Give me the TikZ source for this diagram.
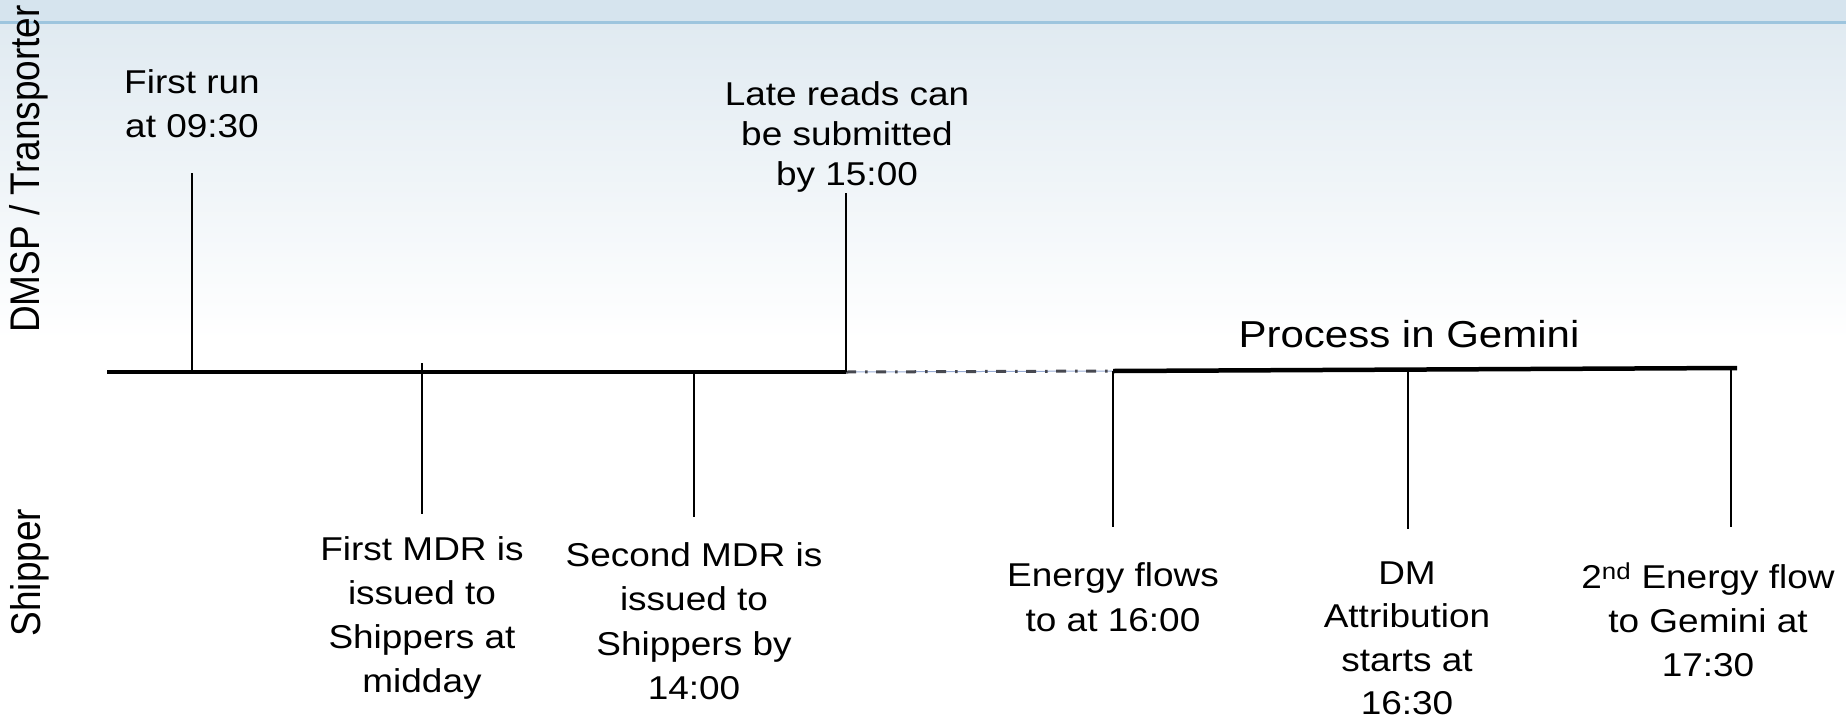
\documentclass[tikz,border=0pt]{standalone}
\usepackage{fontspec}
\usepackage{graphicx}
\setmainfont{Liberation Sans}[FakeStretch=1.12]
\newfontfamily\rotfont{Liberation Sans}
\definecolor{bandtop}{RGB}{214,228,238}
\definecolor{bandline}{RGB}{158,197,222}
\definecolor{fadetop}{RGB}{224,234,241}
\definecolor{gapblue}{RGB}{150,170,212}
\definecolor{gapdark}{RGB}{70,72,80}
\begin{document}
\begin{tikzpicture}[x=1pt,y=-1pt,
  tl/.style={line width=4.5pt},
  tickline/.style={line width=2pt},
  thintick/.style={line width=1.5pt},
  lbl/.style={inner sep=0pt, align=center, anchor=north, font=\fontsize{33}{44}\selectfont},
  side/.style={inner sep=0pt},
]
\useasboundingbox (0,0) rectangle (1846,718);
% background
\shade[top color=fadetop, bottom color=white] (0,22) rectangle (1846,340);
\fill[bandtop] (0,0) rectangle (1846,22);
\draw[line width=3pt, bandline] (0,22) -- (1846,22);

% side labels
\node[side] (dmsp) at (29,169) {\scalebox{1.12}[1]{\rotatebox{90}{\rotfont\fontsize{37}{44}\selectfont DMSP / Transporter}}};
\node[side] (shipper) at (30,572.5) {\scalebox{1.12}[1]{\rotatebox{90}{\rotfont\fontsize{37}{44}\selectfont Shipper}}};

% timeline
\coordinate (L0) at (107,372);
\coordinate (L1) at (846,372);
\coordinate (L2) at (1113,371);
\coordinate (L3) at (1737,368);
\draw[tl] (L0) -- (L1);
\draw[line width=1pt, gapblue] (L1) -- (L2);
\draw[line width=3pt, gapdark, dash pattern=on 10pt off 9pt on 2.5pt off 8.5pt] (L1) -- (L2);
\draw[tl] (L2) -- (L3);

% labels
\node[lbl] (firstrun) at (192,68) {\rule{0pt}{25pt}First run\\at 09:30};
\node[lbl, font=\fontsize{33}{40}\selectfont] (late) at (847,80) {\rule{0pt}{25pt}Late reads can\\be submitted\\by 15:00};
\node[lbl] (mdr1) at (422,535) {\rule{0pt}{25pt}First MDR is\\issued to\\Shippers at\\midday};
\node[lbl, font=\fontsize{33}{44.5}\selectfont] (mdr2) at (694,541) {\rule{0pt}{25pt}Second MDR is\\issued to\\Shippers by\\14:00};
\node[lbl, font=\fontsize{33}{45}\selectfont] (flow1) at (1113,561) {\rule{0pt}{25pt}Energy flows\\to at 16:00};
\node[lbl, font=\fontsize{33}{43.5}\selectfont] (dm) at (1407,559) {\rule{0pt}{25pt}DM\\Attribution\\starts at\\16:30};
\node[lbl] (flow2) at (1708,563) {\rule{0pt}{25pt}2\textsuperscript{nd} Energy flow\\to Gemini at\\17:30};
\node[inner sep=0pt, anchor=base, font=\fontsize{37.5}{44}\selectfont] (gemini) at (1409,347) {Process in Gemini};

% ticks
\coordinate (k1) at (192,372);  \coordinate (k1e) at (192,173);
\coordinate (k2) at (422,363);  \coordinate (k2e) at (422,514);
\coordinate (k3) at (694,372);  \coordinate (k3e) at (694,517);
\coordinate (k4) at (846,372);  \coordinate (k4e) at (846,193);
\coordinate (k5) at (1113,371); \coordinate (k5e) at (1113,527);
\coordinate (k6) at (1408,370); \coordinate (k6e) at (1408,529);
\coordinate (k7) at (1731,368); \coordinate (k7e) at (1731,527);
\draw[tickline] (k1) -- (k1e);
\draw[thintick] (k2) -- (k2e);
\draw[thintick] (k3) -- (k3e);
\draw[tickline] (k4) -- (k4e);
\draw[tickline] (k5) -- (k5e);
\draw[tickline] (k6) -- (k6e);
\draw[tickline, line width=2.4pt] (k7) -- (k7e);
\end{tikzpicture}
\end{document}
